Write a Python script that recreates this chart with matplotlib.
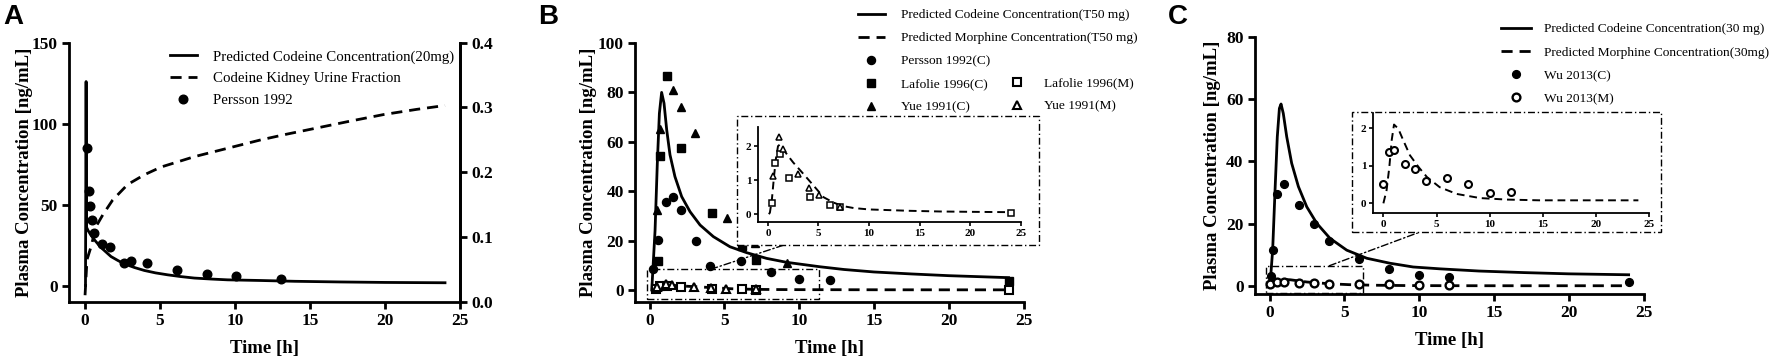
import matplotlib
matplotlib.use("Agg")
import matplotlib.pyplot as plt
from matplotlib.patches import Rectangle, ConnectionPatch

# ---- data ----
# A: codeine 20 mg
a_pred_t = [0.03, 0.07, 0.1, 0.2, 0.4, 0.62, 0.9, 1.18, 1.73, 2.2, 2.62, 3.3, 3.95, 4.7,
            5.51, 6.4, 7.29, 8.4, 9.51, 11.7, 14, 17, 20, 24]
a_pred_c = [0, 126, 36, 34, 31, 28.3, 25.2, 22.5, 17.9, 15.4, 13.4, 11.1, 9.3, 7.8,
            6.6, 5.5, 4.6, 4.0, 3.5, 3.1, 2.6, 2.2, 1.9, 1.7]
a_urine_t = [0, 0.13, 0.4, 0.73, 1.18, 1.84, 2.84, 3.95, 5.07, 7.29, 9.51, 11.73,
             13.5, 15.4, 17.7, 19.9, 22.1, 24]
a_urine_f = [0.01, 0.065, 0.085, 0.116, 0.134, 0.157, 0.181, 0.196, 0.208, 0.224, 0.237,
             0.25, 0.259, 0.268, 0.279, 0.289, 0.297, 0.303]
a_persson_t = [0.1, 0.25, 0.3, 0.45, 0.6, 1.15, 1.65, 2.6, 3.05, 4.15, 6.1, 8.1, 10.05, 13.05]
a_persson_c = [85, 58.6, 49.3, 40.6, 32.4, 25.8, 23.7, 14.2, 15.3, 14.2, 9.3, 7.2, 5.6, 4.1]

# B: codeine T50 mg
b_codeine_t = [0.15, 0.37, 0.52, 0.66, 0.81, 0.97, 1.15, 1.37, 1.7, 2.15, 2.71, 3.38, 4.27,
               5.38, 6.5, 7.83, 9.17, 11.4, 13, 15, 17.5, 20, 22, 24]
b_codeine_c = [0, 24, 51, 71.5, 80, 75.6, 64.8, 54.7, 45.9, 37.8, 31.7, 26.3, 21.6,
               17.5, 15.1, 12.8, 11.2, 9.4, 8.3, 7.3, 6.5, 5.8, 5.4, 5.0]
b_morphine_t = [0.1, 0.2, 0.4, 0.6, 0.8, 1.0, 1.2, 1.5, 1.9, 2.5, 3.4, 4.4, 5.5, 6.5, 7.4,
                8.5, 10, 12, 14, 17, 20, 24]
b_morphine_c = [0, 0.05, 0.45, 1.1, 1.65, 2.0, 2.05, 1.92, 1.75, 1.52, 1.22, 0.88, 0.5,
                0.34, 0.24, 0.18, 0.14, 0.12, 0.1, 0.08, 0.07, 0.06]
b_persson_t = [0.25, 0.55, 1.1, 1.6, 2.1, 3.1, 4.05, 6.1, 8.15, 10.0, 12.05]
b_persson_c = [8.4, 20.2, 35.6, 37.6, 32.4, 20.0, 9.7, 11.6, 7.3, 4.6, 4.0]
b_lafolie_c_t = [0.6, 0.7, 1.2, 2.1, 4.2, 6.15, 7.15, 24]
b_lafolie_c = [11.9, 54.2, 86.6, 57.6, 31.3, 17.8, 12.0, 3.6]
b_lafolie_m_t = [0.45, 0.7, 1.2, 2.1, 4.2, 6.15, 7.15, 24]
b_lafolie_m = [0.33, 1.49, 1.76, 1.06, 0.52, 0.26, 0.20, 0.05]
b_yue_c_t = [0.52, 0.7, 1.55, 2.08, 3.04, 5.16, 7.05, 9.17]
b_yue_c = [32.4, 65, 81, 74, 63.4, 29.0, 18.9, 11.1]
b_yue_m_t = [0.5, 1.1, 1.5, 3.0, 4.1, 5.1, 7.1]
b_yue_m = [1.12, 2.26, 1.92, 1.18, 0.78, 0.56, 0.22]

# C: codeine 30 mg
c_codeine_t = [0.03, 0.21, 0.37, 0.52, 0.66, 0.77, 0.92, 1.15, 1.48, 1.93, 2.49, 3.16, 4.04,
               5.16, 6.5, 8.05, 9.6, 11.4, 14, 17, 20, 24]
c_codeine_c = [0, 11.5, 30.8, 47.9, 57, 58.4, 55.4, 47.9, 39.4, 31.9, 25.4, 20.1, 15.3,
               11.5, 8.9, 7.3, 6.1, 5.5, 4.8, 4.3, 3.9, 3.6]
c_morphine_t = [0.0, 0.3, 0.56, 0.78, 1.0, 1.4, 1.87, 2.5, 3.3, 4.1, 5.3, 6.9, 9.1, 11.6,
                14.7, 20, 24]
c_morphine_c = [0, 0.35, 0.97, 1.68, 2.1, 1.99, 1.68, 1.28, 0.97, 0.70, 0.43, 0.25, 0.14,
                0.10, 0.08, 0.08, 0.08]
c_wu_c_t = [0.08, 0.25, 0.5, 1, 2, 3, 4, 6, 8, 10, 12, 24]
c_wu_c = [3.2, 11.6, 29.6, 32.6, 26.0, 19.9, 14.5, 8.8, 5.6, 3.4, 2.8, 1.4]
c_wu_m_t = [0, 0.5, 1, 2, 3, 4, 6, 8, 10, 12]
c_wu_m = [0.52, 1.37, 1.41, 1.04, 0.92, 0.59, 0.67, 0.52, 0.27, 0.30]

x_ticks = [0, 5, 10, 15, 20, 25]

# ---- style ----
W, H = 1772, 358
plt.rcParams['font.family'] = ['Liberation Serif', 'DejaVu Serif']
plt.rcParams['axes.linewidth'] = 2

leg_font = {'family': 'Liberation Serif', 'weight': 'normal', 'size': 9.6}
DASH = (0, (4, 2.5))
DASHDOT = (0, (5, 2, 1, 2))


def box(x0, y0, x1, y1):
    # pixel box (top-left origin) -> figure fraction rect
    return [x0 / W, 1 - y1 / H, (x1 - x0) / W, (y1 - y0) / H]


def bold_ticks(ax):
    for lab in ax.get_xticklabels() + ax.get_yticklabels():
        lab.set_fontweight('bold')


def main_style(ax, ylab_x):
    for s in ['top', 'right']:
        ax.spines[s].set_visible(False)
    ax.tick_params(direction='out', length=5, width=2, labelsize=12.5, pad=3)
    ax.set_xticks(x_ticks)
    ax.set_xlabel('Time [h]', fontsize=13.5, fontweight='bold', labelpad=8)
    ax.set_ylabel('Plasma Concentration [ng/mL]', fontsize=13.5, fontweight='bold')
    ax.yaxis.set_label_coords(ylab_x, 0.5)


def inset_style(ax):
    for s in ['top', 'right']:
        ax.spines[s].set_visible(False)
    for s in ['left', 'bottom']:
        ax.spines[s].set_linewidth(1.3)
    ax.tick_params(direction='out', length=3, width=1.2, labelsize=8, pad=2)
    ax.set_xticks(x_ticks)
    ax.set_xlim(-0.95, 25)
    ax.set_facecolor('none')


fig = plt.figure(figsize=(W / 100, H / 100), dpi=100)

# ---------------- A ----------------
axA = fig.add_axes(box(69, 42.7, 460, 301.7))
main_style(axA, -0.092)
axA.spines['right'].set_visible(True)
lA1, = axA.plot(a_pred_t, a_pred_c, color='black', lw=2,
                label='Predicted Codeine Concentration(20mg)')
lA3, = axA.plot(a_persson_t, a_persson_c, 'o', color='black', ms=6.2, ls='none',
                label='Persson 1992')
axA.set_xlim(-1.07, 25)
axA.set_ylim(-10, 150)
axA.set_yticks([0, 50, 100, 150])
bold_ticks(axA)
axA2 = axA.twinx()
for s in ['top', 'left', 'bottom']:
    axA2.spines[s].set_visible(False)
axA2.spines['right'].set_linewidth(2)
lA2, = axA2.plot(a_urine_t, a_urine_f, color='black', lw=2, ls=DASH,
                 label='Codeine Kidney Urine Fraction')
axA2.set_ylim(0, 0.4)
axA2.set_yticks([0.0, 0.1, 0.2, 0.3, 0.4])
axA2.set_yticklabels(['0.0', '0.1', '0.2', '0.3', '0.4'])
axA2.tick_params(direction='out', length=5, width=2, labelsize=12.5, pad=3)
bold_ticks(axA2)
fig.legend(handles=[lA1, lA2, lA3], loc='upper left',
           bbox_to_anchor=(170 / W, 1 - 50 / H), frameon=False, prop=leg_font | {'size': 10.7},
           borderpad=0, borderaxespad=0, handlelength=1.8, handletextpad=1.07,
           labelspacing=0.55)

# ---------------- B ----------------
axB = fig.add_axes(box(635, 43, 1023.5, 302))
main_style(axB, -0.098)
lB1, = axB.plot(b_codeine_t, b_codeine_c, color='black', lw=2,
                label='Predicted Codeine Concentration(T50 mg)')
lB2, = axB.plot(b_morphine_t, b_morphine_c, color='black', lw=2, ls=DASH,
                label='Predicted Morphine Concentration(T50 mg)')
lB3, = axB.plot(b_persson_t, b_persson_c, 'o', color='black', ms=5.8, ls='none',
                label='Persson 1992(C)')
lB4, = axB.plot(b_lafolie_c_t, b_lafolie_c, 's', color='black', ms=5.4, ls='none',
                label='Lafolie 1996(C)')
lB5, = axB.plot(b_yue_c_t, b_yue_c, '^', color='black', ms=6.0, ls='none',
                label='Yue 1991(C)')
lB6, = axB.plot(b_lafolie_m_t, b_lafolie_m, 's', mfc='white', mec='black', mew=1.5, ms=5.4,
                ls='none', label='Lafolie 1996(M)')
lB7, = axB.plot(b_yue_m_t, b_yue_m, '^', mfc='white', mec='black', mew=1.5, ms=6.0,
                ls='none', label='Yue 1991(M)')
axB.set_xlim(-0.97, 25)
axB.set_ylim(-4.86, 100)
axB.set_yticks([0, 20, 40, 60, 80, 100])
bold_ticks(axB)
axB.add_patch(Rectangle((-0.15, -3.6), 11.5, 12.0, fill=False, lw=1, ls=DASHDOT,
                        clip_on=False))
fig.add_artist(ConnectionPatch(xyA=(4.1, 8.4), coordsA=axB.transData,
                               xyB=(787 / W, 1 - 244 / H), coordsB=fig.transFigure,
                               lw=1, ls=DASHDOT, zorder=3))
fig.add_artist(Rectangle((736.8 / W, 1 - 245 / H), 301.8 / W, 129 / H,
                         transform=fig.transFigure, facecolor='white', edgecolor='black',
                         lw=1, ls=DASHDOT, zorder=3))
fig.legend(handles=[lB1, lB2, lB3, lB4, lB5], loc='upper left',
           bbox_to_anchor=(858 / W, 1 - 9 / H), frameon=False, prop=leg_font,
           borderpad=0, borderaxespad=0, handlelength=2.0, handletextpad=1.25,
           labelspacing=0.8)
fig.legend(handles=[lB6, lB7], loc='upper left',
           bbox_to_anchor=(1003.5 / W, 1 - 77 / H), frameon=False, prop=leg_font,
           borderpad=0, borderaxespad=0, handlelength=2.0, handletextpad=1.0,
           labelspacing=0.8)

insB = fig.add_axes(box(758.3, 126.7, 1020.7, 221.7), zorder=4)
inset_style(insB)
insB.plot(b_morphine_t, b_morphine_c, color='black', lw=1.4, ls=(0, (4, 2.5)))
insB.plot(b_lafolie_m_t, b_lafolie_m, 's', mfc='white', mec='black', mew=1.1, ms=4.2,
          ls='none')
insB.plot(b_yue_m_t, b_yue_m, '^', mfc='white', mec='black', mew=1.1, ms=4.6, ls='none')
insB.set_ylim(-0.22, 2.57)
insB.set_yticks([0, 1, 2])
bold_ticks(insB)

# ---------------- C ----------------
axC = fig.add_axes(box(1254.7, 36.7, 1643.6, 294))
main_style(axC, -0.087)
lC1, = axC.plot(c_codeine_t, c_codeine_c, color='black', lw=2,
                label='Predicted Codeine Concentration(30 mg)')
lC2, = axC.plot(c_morphine_t, c_morphine_c, color='black', lw=2, ls=DASH,
                label='Predicted Morphine Concentration(30mg)')
lC3, = axC.plot(c_wu_c_t, c_wu_c, 'o', color='black', ms=5.6, ls='none', label='Wu 2013(C)')
lC4, = axC.plot(c_wu_m_t, c_wu_m, 'o', mfc='white', mec='black', mew=1.7, ms=5.6,
                ls='none', label='Wu 2013(M)')
axC.set_xlim(-0.99, 25)
axC.set_ylim(-2.57, 80)
axC.set_yticks([0, 20, 40, 60, 80])
bold_ticks(axC)
axC.add_patch(Rectangle((-0.23, -2.3), 6.49, 8.8, fill=False, lw=1, ls=DASHDOT,
                        clip_on=False))
fig.add_artist(ConnectionPatch(xyA=(4.0, 6.5), coordsA=axC.transData,
                               xyB=(1420 / W, 1 - 232 / H), coordsB=fig.transFigure,
                               lw=1, ls=DASHDOT, zorder=3))
fig.add_artist(Rectangle((1351.7 / W, 1 - 232 / H), 309.6 / W, 120 / H,
                         transform=fig.transFigure, facecolor='white', edgecolor='black',
                         lw=1, ls=DASHDOT, zorder=3))
fig.legend(handles=[lC1, lC2, lC3, lC4], loc='upper left',
           bbox_to_anchor=(1501 / W, 1 - 23 / H), frameon=False, prop=leg_font,
           borderpad=0, borderaxespad=0, handlelength=2.25, handletextpad=1.0,
           labelspacing=0.82)

insC = fig.add_axes(box(1373.3, 113.3, 1649, 212.7), zorder=4)
inset_style(insC)
insC.plot(c_morphine_t, c_morphine_c, color='black', lw=1.4, ls=(0, (4, 2.5)))
insC.plot(c_wu_m_t, c_wu_m, 'o', mfc='white', mec='black', mew=1.5, ms=5, ls='none')
insC.set_ylim(-0.25, 2.4)
insC.set_yticks([0, 1, 2])
bold_ticks(insC)

# panel letters
for x, letter in [(3, 'A'), (538, 'B'), (1168, 'C')]:
    fig.text(x / W, 1 - 4 / H, letter, fontfamily='Liberation Sans', fontweight='bold',
             fontsize=20, va='top', ha='left')

fig.savefig('out.png', dpi=100)
